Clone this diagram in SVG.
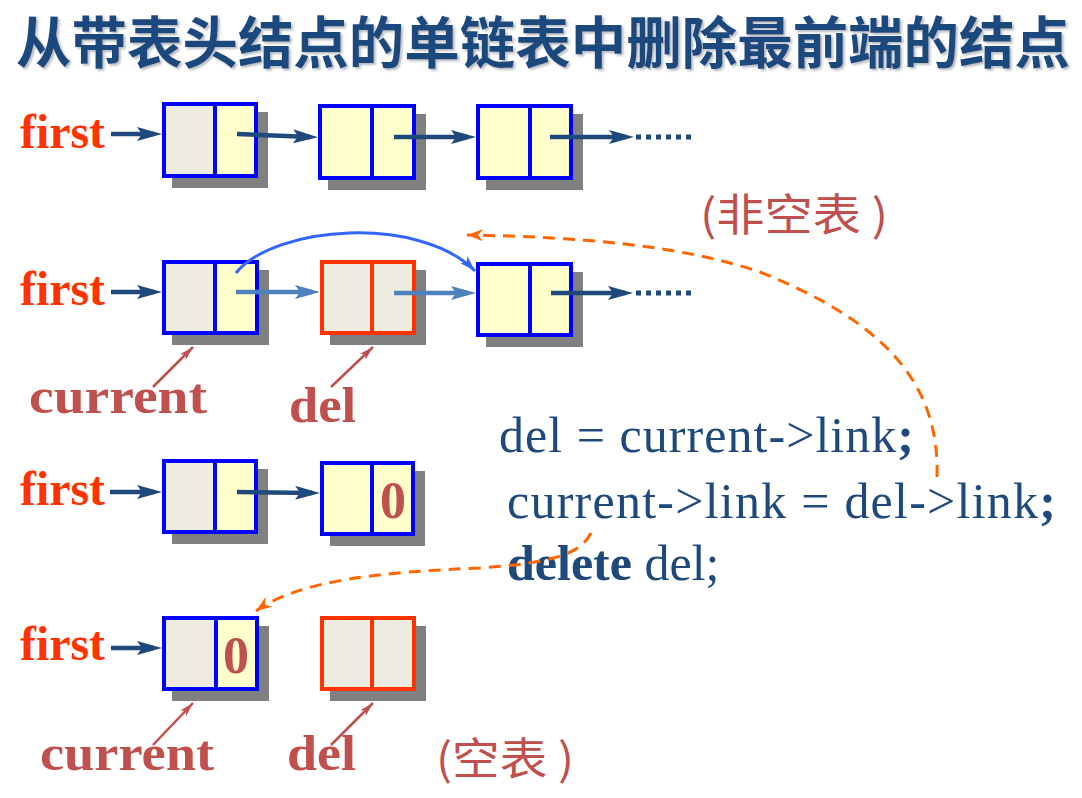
<svg xmlns="http://www.w3.org/2000/svg" width="1082" height="798" viewBox="0 0 1082 798">
<style>
.sh{fill:#808080}
.gy{fill:#EEECE1}
.yl{fill:#FFFFCC}
.ob{fill:none;stroke:#0000FF;stroke-width:4}
.or{fill:none;stroke:#FF3300;stroke-width:4}
.dv{stroke:#0000FF;stroke-width:4}
.dvr{stroke:#FF3300;stroke-width:4}
.first{font-family:"Liberation Serif",serif;font-weight:bold;font-size:48px;fill:#FF3300}
.lab{font-family:"Liberation Serif",serif;font-weight:bold;font-size:50px;fill:#C0504D}
.zero{font-family:"Liberation Serif",serif;font-weight:bold;font-size:52px;fill:#C0504D;text-anchor:middle}
.code{font-family:"Liberation Serif",serif;font-size:50px;fill:#1F497D}
.cjk{font-family:"Noto Sans CJK SC",sans-serif;font-size:44px;fill:#C0504D}
.da{stroke:#1F497D;stroke-width:4.5;fill:none;marker-end:url(#ad)}
.la{stroke:#4F81BD;stroke-width:4.5;fill:none;marker-end:url(#al)}
.dots{stroke:#1F497D;stroke-width:5;stroke-dasharray:5 5;fill:none}
.pa{stroke:#C0504D;stroke-width:2.5;fill:none;marker-end:url(#ap)}
.od{stroke:#FF6600;stroke-width:3;fill:none;stroke-dasharray:12 8;marker-end:url(#ao)}
</style>
<defs>
<marker id="ad" markerUnits="userSpaceOnUse" markerWidth="25" markerHeight="14" refX="17" refY="7" orient="auto"><path d="M0,0 L25,7 L0,14 L5,7 z" fill="#1F497D"/></marker>
<marker id="al" markerUnits="userSpaceOnUse" markerWidth="25" markerHeight="14" refX="17" refY="7" orient="auto"><path d="M0,0 L25,7 L0,14 L5,7 z" fill="#4F81BD"/></marker>
<marker id="ap" markerUnits="userSpaceOnUse" markerWidth="14" markerHeight="8" refX="14" refY="4" orient="auto"><path d="M0,0 L14,4 L0,8 L3,4 z" fill="#C0504D"/></marker>
<marker id="ab" markerUnits="userSpaceOnUse" markerWidth="16" markerHeight="10" refX="16" refY="5" orient="auto"><path d="M0,0 L16,5 L0,10 L4,5 z" fill="#3366FF"/></marker>
<marker id="ao" markerUnits="userSpaceOnUse" markerWidth="16" markerHeight="12" refX="16" refY="6" orient="auto"><path d="M0,0 L16,6 L0,12 L5,6 z" fill="#FF6600"/></marker>
<filter id="tsh" x="-5%" y="-30%" width="110%" height="160%"><feDropShadow dx="2" dy="2" stdDeviation="1" flood-color="#9aa0a8" flood-opacity="0.7"/></filter>
</defs>
<rect width="1082" height="798" fill="#FFFFFF"/>

<g id="title">
<text x="16" y="63" font-family="Noto Sans CJK SC, sans-serif" font-weight="bold" font-size="56" fill="#1F497D" textLength="1054" lengthAdjust="spacingAndGlyphs" filter="url(#tsh)">从带表头结点的单链表中删除最前端的结点</text>
</g>

<!-- Row 1 -->
<g id="r1-first"><text class="first" x="20" y="148" textLength="85" lengthAdjust="spacingAndGlyphs">first</text></g>
<g id="r1-n1">
<rect class="sh" x="172" y="112" width="96" height="76"/>
<rect class="gy" x="164" y="104" width="51" height="72"/>
<rect class="yl" x="215" y="104" width="41" height="72"/>
<rect class="ob" x="164" y="104" width="92" height="72"/>
<line class="dv" x1="215" y1="104" x2="215" y2="176"/>
</g>
<g id="r1-n2">
<rect class="sh" x="328" y="114" width="98" height="76"/>
<rect class="yl" x="320" y="106" width="94" height="72"/>
<rect class="ob" x="320" y="106" width="94" height="72"/>
<line class="dv" x1="372" y1="106" x2="372" y2="178"/>
</g>
<g id="r1-n3">
<rect class="sh" x="486" y="114" width="97" height="76"/>
<rect class="yl" x="478" y="106" width="93" height="72"/>
<rect class="ob" x="478" y="106" width="93" height="72"/>
<line class="dv" x1="530" y1="106" x2="530" y2="178"/>
</g>

<!-- Row 2 -->
<g id="r2-first"><text class="first" x="20" y="305" textLength="85" lengthAdjust="spacingAndGlyphs">first</text></g>
<g id="r2-n1">
<rect class="sh" x="172" y="270" width="97" height="75"/>
<rect class="gy" x="164" y="262" width="51" height="71"/>
<rect class="yl" x="215" y="262" width="42" height="71"/>
<rect class="ob" x="164" y="262" width="93" height="71"/>
<line class="dv" x1="215" y1="262" x2="215" y2="333"/>
</g>
<g id="r2-n2">
<rect class="sh" x="330" y="270" width="96" height="75"/>
<rect class="gy" x="322" y="262" width="92" height="71"/>
<rect class="or" x="322" y="262" width="92" height="71"/>
<line class="dvr" x1="372" y1="262" x2="372" y2="333"/>
</g>
<g id="r2-n3">
<rect class="sh" x="486" y="272" width="97" height="75"/>
<rect class="yl" x="478" y="264" width="93" height="71"/>
<rect class="ob" x="478" y="264" width="93" height="71"/>
<line class="dv" x1="530" y1="264" x2="530" y2="335"/>
</g>
<g id="r2-current"><text class="lab" x="29" y="413" textLength="178" lengthAdjust="spacingAndGlyphs">current</text></g>
<g id="r2-del"><text class="lab" x="289" y="422" textLength="67" lengthAdjust="spacingAndGlyphs">del</text></g>
<g id="note-nonempty"><text class="cjk" x="700" y="231" textLength="188" lengthAdjust="spacingAndGlyphs">(非空表 )</text></g>

<!-- Code -->
<g id="code">
<text class="code" x="499" y="452" textLength="415">del = current-&gt;link<tspan font-weight="bold">;</tspan></text>
<text class="code" x="507" y="518" textLength="549">current-&gt;link = del-&gt;link<tspan font-weight="bold">;</tspan></text>
<text class="code" x="507" y="580"><tspan font-weight="bold">delete</tspan> del;</text>
</g>

<!-- Row 3 -->
<g id="r3-first"><text class="first" x="20" y="505" textLength="85" lengthAdjust="spacingAndGlyphs">first</text></g>
<g id="r3-n1">
<rect class="sh" x="172" y="469" width="96" height="75"/>
<rect class="gy" x="164" y="461" width="51" height="71"/>
<rect class="yl" x="215" y="461" width="41" height="71"/>
<rect class="ob" x="164" y="461" width="92" height="71"/>
<line class="dv" x1="215" y1="461" x2="215" y2="532"/>
</g>
<g id="r3-n2">
<rect class="sh" x="330" y="471" width="95" height="75"/>
<rect class="yl" x="322" y="463" width="91" height="71"/>
<rect class="ob" x="322" y="463" width="91" height="71"/>
<line class="dv" x1="372" y1="463" x2="372" y2="534"/>
<text class="zero" x="393" y="518">0</text>
</g>

<!-- Row 4 -->
<g id="r4-first"><text class="first" x="20" y="660" textLength="85" lengthAdjust="spacingAndGlyphs">first</text></g>
<g id="r4-n1">
<rect class="sh" x="172" y="626" width="97" height="75"/>
<rect class="gy" x="164" y="618" width="52" height="71"/>
<rect class="yl" x="216" y="618" width="41" height="71"/>
<rect class="ob" x="164" y="618" width="93" height="71"/>
<line class="dv" x1="216" y1="618" x2="216" y2="689"/>
<text class="zero" x="236" y="673">0</text>
</g>
<g id="r4-n2">
<rect class="sh" x="330" y="626" width="96" height="75"/>
<rect class="gy" x="322" y="618" width="92" height="71"/>
<rect class="or" x="322" y="618" width="92" height="71"/>
<line class="dvr" x1="372" y1="618" x2="372" y2="689"/>
</g>
<g id="r4-current"><text class="lab" x="40" y="770" textLength="174" lengthAdjust="spacingAndGlyphs">current</text></g>
<g id="r4-del"><text class="lab" x="287" y="770" textLength="69" lengthAdjust="spacingAndGlyphs">del</text></g>
<g id="note-empty"><text class="cjk" x="436" y="775" font-size="42" textLength="138" lengthAdjust="spacingAndGlyphs">(空表 )</text></g>

<!-- Connectors -->
<g id="connectors">
<line class="da" x1="111" y1="134" x2="154" y2="134"/>
<line class="da" x1="237" y1="134" x2="310" y2="137"/>
<line class="da" x1="394" y1="137" x2="468" y2="137"/>
<line class="da" x1="550" y1="137" x2="626" y2="137"/>
<line class="dots" x1="636" y1="137" x2="691" y2="137"/>

<line class="da" x1="111" y1="292" x2="154" y2="292"/>
<line class="la" x1="236" y1="292" x2="312" y2="292"/>
<line class="la" x1="394" y1="293" x2="468" y2="293"/>
<line class="da" x1="551" y1="293" x2="625" y2="293"/>
<line class="dots" x1="636" y1="293" x2="691" y2="293"/>
<path d="M236,273 C275,225 420,215 475,271" stroke="#3366FF" stroke-width="3" fill="none" marker-end="url(#ab)"/>

<line class="pa" x1="153" y1="387" x2="193" y2="347"/>
<line class="pa" x1="331" y1="387" x2="373" y2="347"/>

<line class="da" x1="110" y1="492" x2="154" y2="492"/>
<line class="da" x1="237" y1="492" x2="312" y2="493"/>

<line class="da" x1="111" y1="648" x2="154" y2="648"/>
<line class="pa" x1="153" y1="745" x2="193" y2="703"/>
<line class="pa" x1="331" y1="745" x2="373" y2="703"/>

<path class="od" d="M937,477 C940,380 880,320 760,272 C680,245 580,237 467,235"/>
<path class="od" d="M591,533 C580,555 550,563 480,568 C380,572 300,580 256,611"/>
</g>
</svg>
